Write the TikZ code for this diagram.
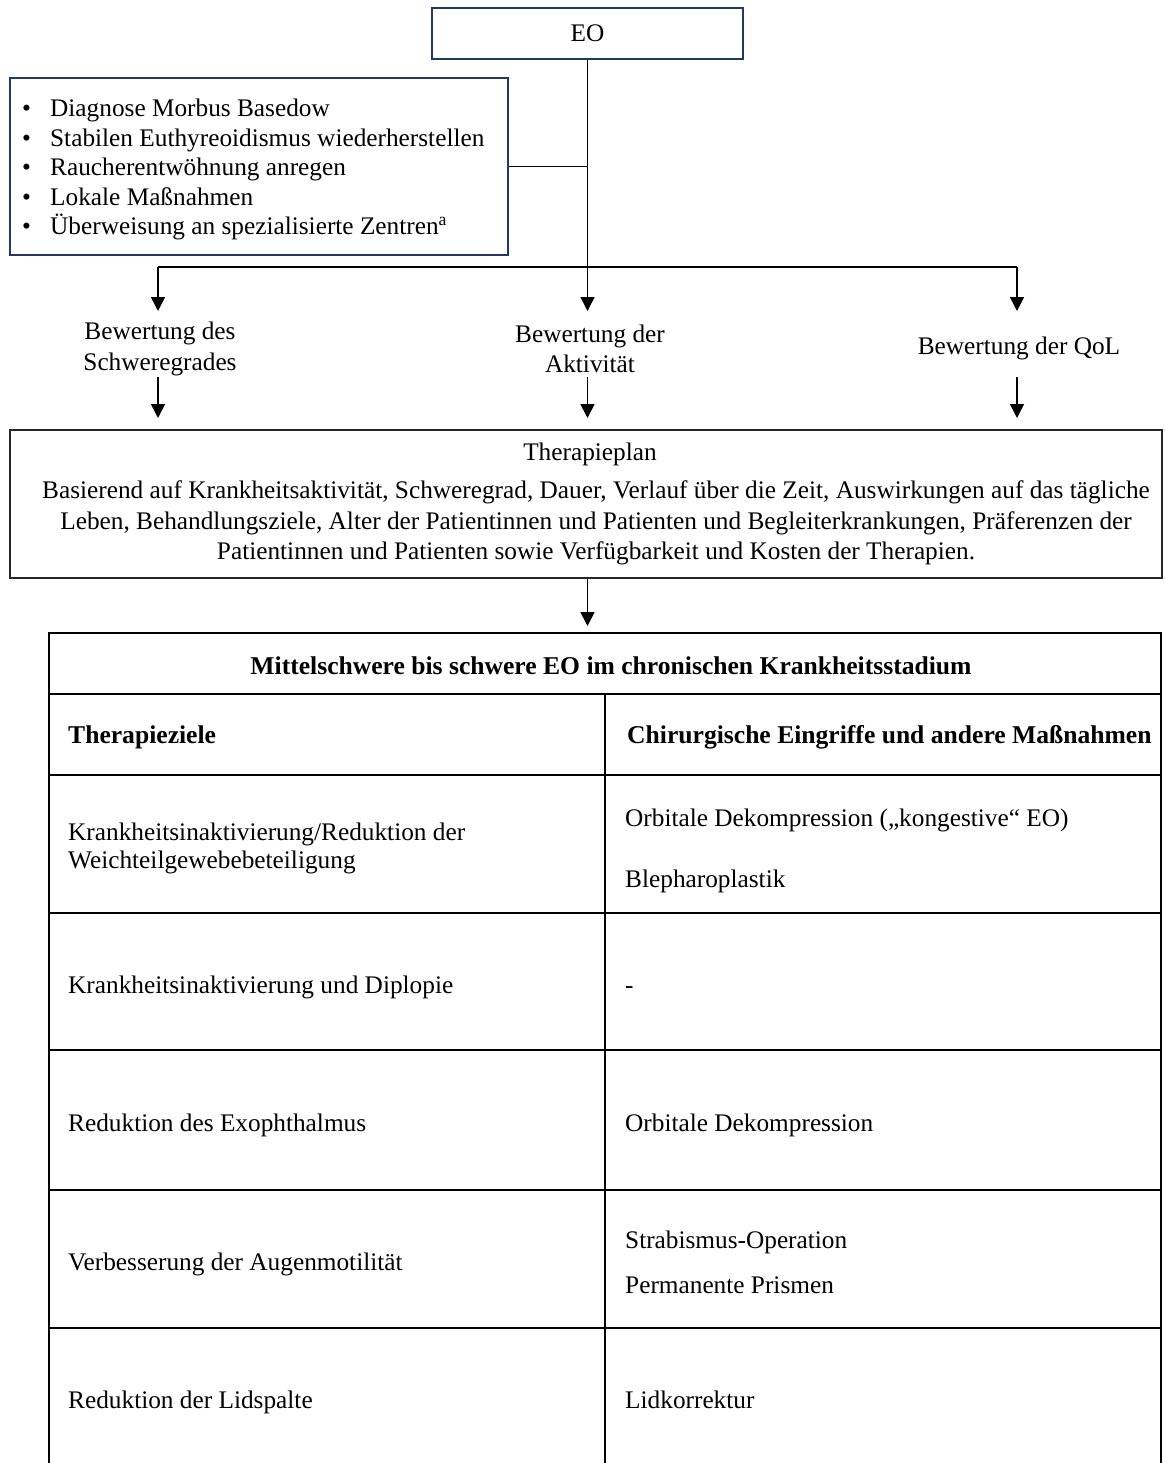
\documentclass[tikz,border=0pt]{standalone}
\usepackage{fontspec}
\setmainfont{Liberation Serif}
\usetikzlibrary{arrows.meta}
\definecolor{navy}{HTML}{203864}
\tikzset{
  navybox/.style={draw=navy, line width=2pt, inner sep=0pt},
  blackbox/.style={draw=black!85, line width=2pt, inner sep=0pt},
  arr/.style={line width=1.7pt, -{Triangle[width=14pt,length=14pt]}},
  conn/.style={line width=1.7pt},
  grid/.style={line width=2.6pt, black},
  txt/.style={inner sep=0pt, font=\fontsize{25.3}{30.5}\selectfont},
  ltxt/.style={txt, anchor=west, align=left},
  stxt/.style={ltxt, text height=23pt, text depth=6pt},
  btxt/.style={inner sep=0pt, text height=23pt, text depth=6pt, font=\fontsize{25.6}{30.5}\selectfont\bfseries},
}
\begin{document}
\begin{tikzpicture}[x=1pt,y=-1pt]
\useasboundingbox (0,0) rectangle (1164,1463);
% EO box
\node[navybox, minimum width=311pt, minimum height=51pt, txt] (eo) at (587.5,33.5) {EO};
% bullet box
\node[navybox, minimum width=498pt, minimum height=177pt] (bul) at (259,166.5) {};
\node[ltxt, font=\fontsize{25.3}{29.5}\selectfont] (bultxt) at (22,169.5) {%
\makebox[28pt][l]{•}Diagnose Morbus Basedow\\
\makebox[28pt][l]{•}Stabilen Euthyreoidismus wiederherstellen\\
\makebox[28pt][l]{•}Raucherentwöhnung anregen\\
\makebox[28pt][l]{•}Lokale Maßnahmen\\
\makebox[28pt][l]{•}Überweisung an spezialisierte Zentren\textsuperscript{a}};
% connectors
\coordinate (jn) at (587.5,267);
\coordinate (bl) at (158,267);
\coordinate (br) at (1017,267);
\draw[conn] (eo.south) -- (jn);
\draw[conn] (bul.east) -- (bul.east -| eo.south);
\draw[conn] (bl) -- (br);
\coordinate (t1) at (158,311);
\coordinate (t2) at (587.5,311);
\coordinate (t3) at (1017,311);
\draw[arr] (bl) -- (t1);
\draw[arr] (jn) -- (t2);
\draw[arr] (br) -- (t3);
% labels
\node[txt, align=center] (l1) at (160,349) {Bewertung des\\Schweregrades};
\node[txt, align=center] (l2) at (590,349) {Bewertung der\\Aktivität};
\node[txt, text height=17pt, text depth=6pt] (l3) at (1019,349) {Bewertung der QoL};
\coordinate (s1) at (158,377);
\coordinate (s2) at (587.5,377);
\coordinate (s3) at (1017,377);
\coordinate (u1) at (158,418);
\coordinate (u2) at (587.5,418);
\coordinate (u3) at (1017,418);
\draw[arr] (s1) -- (u1);
\draw[arr] (s2) -- (u2);
\draw[arr] (s3) -- (u3);
% Therapieplan
\node[blackbox, minimum width=1152pt, minimum height=148pt] (tp) at (586,504) {};
\node[txt, text height=17pt, text depth=6pt] (tpt) at (590,455) {Therapieplan};
\node[txt, align=center] (tpx) at (596,523) {Basierend auf Krankheitsaktivität, Schweregrad, Dauer, Verlauf über die Zeit, Auswirkungen auf das tägliche\\
Leben, Behandlungsziele, Alter der Patientinnen und Patienten und Begleiterkrankungen, Präferenzen der\\
Patientinnen und Patienten sowie Verfügbarkeit und Kosten der Therapien.};
\coordinate (tab) at (587.5,626);
\draw[arr] (tp.south -| eo.south) -- (tab);
% table grid
\draw[grid] (49,1463) -- (49,633) -- (1161,633) -- (1161,1463);
\draw[grid] (49,694) -- (1161,694);
\foreach \yy in {775,913,1050,1190,1328} \draw[grid] (49,\yy) -- (1161,\yy);
\draw[grid] (605,694) -- (605,1463);
% table texts
\node[btxt] (ttl) at (611,666) {Mittelschwere bis schwere EO im chronischen Krankheitsstadium};
\node[btxt, anchor=west] (h1) at (68,735) {Therapieziele};
\node[btxt, anchor=west] (h2) at (627,735) {Chirurgische Eingriffe und andere Maßnahmen};
\node[ltxt, font=\fontsize{25.3}{28}\selectfont] (a1) at (68,848) {Krankheitsinaktivierung/Reduktion der\\Weichteilgewebebeteiligung};
\node[stxt] (b1a) at (625,818) {Orbitale Dekompression („kongestive“ EO)};
\node[stxt] (b1b) at (625,879) {Blepharoplastik};
\node[stxt] (a2) at (68,985) {Krankheitsinaktivierung und Diplopie};
\node[stxt] (b2) at (625,985) {-};
\node[stxt] (a3) at (68,1123) {Reduktion des Exophthalmus};
\node[stxt] (b3) at (625,1123) {Orbitale Dekompression};
\node[stxt] (a4) at (68,1262) {Verbesserung der Augenmotilität};
\node[stxt] (b4a) at (625,1240) {Strabismus-Operation};
\node[stxt] (b4b) at (625,1285) {Permanente Prismen};
\node[stxt] (a5) at (68,1400) {Reduktion der Lidspalte};
\node[stxt] (b5) at (625,1400) {Lidkorrektur};
\end{tikzpicture}
\end{document}
